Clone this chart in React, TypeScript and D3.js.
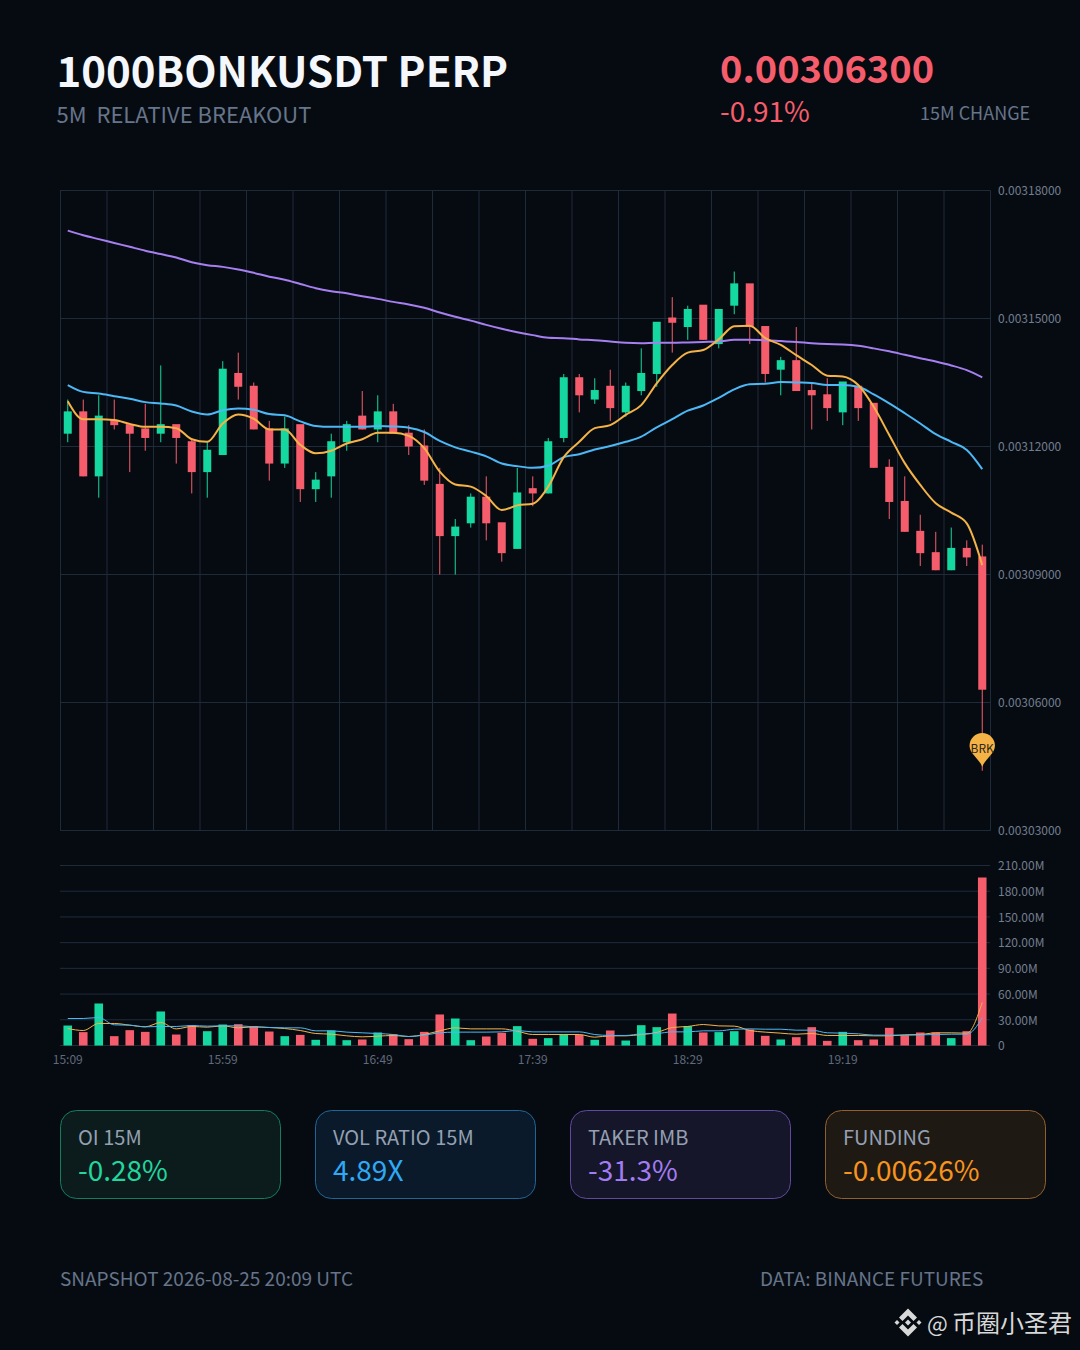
import { useEffect, useRef } from "react";
import * as d3 from "d3";

// Prices are in units of 0.000001 USDT (the contract's tick), volumes in millions
const times = [
  "15:09", "15:14", "15:19", "15:24", "15:29", "15:34", "15:39", "15:44", "15:49", "15:54",
  "15:59", "16:04", "16:09", "16:14", "16:19", "16:24", "16:29", "16:34", "16:39", "16:44",
  "16:49", "16:54", "16:59", "17:04", "17:09", "17:14", "17:19", "17:24", "17:29", "17:34",
  "17:39", "17:44", "17:49", "17:54", "17:59", "18:04", "18:09", "18:14", "18:19", "18:24",
  "18:29", "18:34", "18:39", "18:44", "18:49", "18:54", "18:59", "19:04", "19:09", "19:14",
  "19:19", "19:24", "19:29", "19:34", "19:39", "19:44", "19:49", "19:54", "19:59", "20:04",
];
const timeTicks = ["15:09", "15:59", "16:49", "17:39", "18:29", "19:19"];

const opens = [
  3123, 3128, 3113, 3126, 3125, 3124, 3123, 3125, 3121, 3114,
  3118, 3137, 3134, 3124, 3116, 3125, 3110, 3113, 3121, 3127,
  3124, 3128, 3123, 3120, 3111, 3099, 3102, 3108, 3102, 3096,
  3110, 3109, 3122, 3136, 3131, 3134, 3128, 3133, 3137, 3150,
  3148, 3153, 3144, 3153, 3158, 3148, 3138, 3140, 3133, 3132,
  3128, 3134, 3130, 3115, 3107, 3100, 3095, 3091, 3096, 3094,
];
const closes = [
  3128, 3113, 3127, 3125, 3123, 3122, 3125, 3122, 3114, 3119,
  3138, 3134, 3124, 3116, 3124, 3110, 3112, 3121, 3125, 3124,
  3128, 3123, 3120, 3112, 3099, 3101, 3108, 3102, 3095, 3109,
  3109, 3121, 3136, 3132, 3133, 3129, 3134, 3137, 3149, 3149,
  3152, 3145, 3152, 3158, 3148, 3137, 3140, 3133, 3132, 3129,
  3135, 3129, 3115, 3107, 3100, 3095, 3091, 3096, 3094, 3063,
];
const lows = [
  3121, 3113, 3108, 3124, 3114, 3119, 3121, 3116, 3109, 3108,
  3118, 3131, 3124, 3112, 3115, 3107, 3107, 3108, 3119, 3124,
  3121, 3123, 3118, 3111, 3090, 3090, 3101, 3098, 3093, 3096,
  3106, 3109, 3121, 3128, 3130, 3126, 3127, 3132, 3134, 3142,
  3145, 3145, 3143, 3151, 3144, 3135, 3132, 3133, 3124, 3126,
  3125, 3126, 3115, 3103, 3100, 3092, 3091, 3091, 3092, 3044,
];
const highs = [
  3131, 3131, 3132, 3131, 3125, 3130, 3139, 3125, 3122, 3121,
  3140, 3142, 3135, 3126, 3127, 3125, 3114, 3123, 3126, 3133,
  3132, 3130, 3125, 3124, 3115, 3103, 3109, 3113, 3102, 3115,
  3113, 3122, 3137, 3137, 3136, 3138, 3135, 3143, 3149, 3155,
  3153, 3153, 3152, 3161, 3158, 3148, 3141, 3148, 3135, 3136,
  3135, 3134, 3130, 3117, 3113, 3104, 3100, 3101, 3098, 3097,
];

const maFast = [
  3130.6, 3126.4, 3126.4, 3126.2, 3125.3, 3124.6, 3124.6, 3124.3, 3121.7, 3121.1,
  3125.4, 3127.5, 3126.5, 3124.0, 3124.0, 3120.4, 3118.4, 3119.0, 3120.7, 3121.7,
  3123.2, 3123.2, 3122.5, 3119.6, 3114.1, 3111.1, 3110.6, 3108.4, 3105.1, 3106.2,
  3106.6, 3110.6, 3117.5, 3121.1, 3124.3, 3125.0, 3127.4, 3129.7, 3134.8, 3139.1,
  3142.0, 3142.6, 3145.1, 3148.2, 3148.3, 3145.4, 3143.8, 3141.4, 3139.1, 3136.6,
  3136.4, 3134.4, 3129.3, 3122.7, 3116.1, 3111.0, 3106.7, 3104.5, 3102.0, 3092.2,
];
const maMid = [
  3134.4, 3132.8, 3132.4, 3131.8, 3131.2, 3130.4, 3130.1, 3129.6, 3128.2, 3127.5,
  3128.5, 3128.9, 3128.6, 3127.6, 3127.3, 3125.9, 3124.8, 3124.6, 3124.6, 3124.6,
  3124.8, 3124.7, 3124.4, 3123.4, 3121.3, 3119.8, 3118.8, 3117.7, 3116.0, 3115.4,
  3115.0, 3115.5, 3117.5, 3118.2, 3119.3, 3120.1, 3121.1, 3122.3, 3124.5, 3126.4,
  3128.4, 3129.6, 3131.4, 3133.4, 3134.6, 3134.7, 3135.1, 3135.0, 3134.9, 3134.4,
  3134.4, 3134.0, 3132.2, 3130.1, 3127.8, 3125.4, 3122.9, 3121.1, 3119.2, 3114.7,
];
const maSlow = [
  3170.6, 3169.5, 3168.6, 3167.7, 3166.8, 3165.9, 3165.1, 3164.3, 3163.2, 3162.5,
  3162.1, 3161.5, 3160.7, 3159.8, 3159.1, 3158.1, 3157.1, 3156.4, 3155.9, 3155.2,
  3154.6, 3153.9, 3153.3, 3152.5, 3151.4, 3150.4, 3149.5, 3148.5, 3147.6, 3146.8,
  3146.1, 3145.5, 3145.4, 3145.1, 3144.9, 3144.6, 3144.3, 3144.2, 3144.3, 3144.3,
  3144.4, 3144.5, 3144.6, 3145.0, 3145.0, 3144.9, 3144.7, 3144.5, 3144.2, 3144.0,
  3143.9, 3143.6, 3143.0, 3142.3, 3141.5, 3140.7, 3139.9, 3139.0, 3137.9, 3136.2,
];

const volumes = [
  23.3, 15.6, 49.0, 10.9, 17.9, 15.9, 39.7, 12.8, 23.7, 16.7,
  24.5, 24.9, 22.6, 16.3, 10.9, 12.4, 6.6, 17.5, 6.2, 7.0,
  15.2, 13.2, 7.4, 15.9, 36.2, 31.5, 6.2, 10.5, 14.8, 22.6,
  7.8, 8.6, 12.8, 12.4, 6.6, 17.5, 5.8, 23.7, 21.4, 37.3,
  22.6, 15.2, 15.6, 16.7, 18.7, 11.3, 7.0, 9.7, 21.4, 5.4,
  15.9, 6.2, 7.0, 20.6, 12.0, 15.2, 15.2, 8.6, 16.7, 196.0,
];
const volFast = [
  19.8, 17.5, 25.7, 25.7, 23.7, 21.8, 26.8, 19.4, 22.2, 21.4,
  22.9, 20.6, 21.8, 21.0, 19.8, 17.5, 14.0, 13.2, 11.3, 10.1,
  10.9, 11.7, 10.5, 12.8, 17.1, 20.6, 19.4, 19.4, 19.4, 16.7,
  12.8, 12.8, 12.8, 12.8, 9.7, 11.3, 11.3, 12.8, 15.2, 21.0,
  22.2, 24.5, 22.9, 22.6, 17.5, 15.6, 14.4, 13.2, 14.0, 11.7,
  11.7, 11.7, 11.3, 11.3, 12.4, 12.8, 14.8, 14.8, 14.4, 50.2,
];
const volSlow = [
  31.5, 31.5, 32.7, 24.1, 23.7, 21.8, 22.2, 22.2, 23.3, 22.6,
  22.9, 22.9, 21.8, 21.0, 20.6, 20.6, 17.1, 17.1, 15.6, 14.8,
  14.0, 12.8, 10.5, 12.1, 14.8, 15.6, 15.6, 15.6, 15.9, 17.5,
  15.9, 15.9, 15.9, 15.9, 12.8, 11.7, 11.7, 13.6, 14.0, 15.9,
  15.9, 17.1, 17.1, 19.0, 19.4, 19.0, 19.0, 17.9, 17.9, 14.8,
  14.4, 13.6, 12.1, 12.1, 12.1, 12.4, 12.8, 13.2, 13.2, 32.3,
];

const priceTicks = [3030, 3060, 3090, 3120, 3150, 3180];
const volumeTicks = [0, 30, 60, 90, 120, 150, 180, 210];

const cardLabels = ["OI 15M", "VOL RATIO 15M", "TAKER IMB", "FUNDING"];
const cardValues = ["-0.28%", "4.89X", "-31.3%", "-0.00626%"];
const cardColors = ["#22d69f", "#2fa8f5", "#a27cf2", "#f7941d"];
const cardFills = ["#0c1c1c", "#0a1a2a", "#16162a", "#1f1914"];
const cardStrokes = ["#137d60", "#1f6698", "#5f4aa0", "#94602a"];

const FONT = "'Noto Sans CJK SC', 'Noto Sans', sans-serif";
const BG = "#060b12";
const GRID = "#202b3a";
const UP = "#14d89f";
const DOWN = "#f65d6c";
const ORANGE = "#f5b347";
const BLUE = "#4db8f6";
const PURPLE = "#a67ff0";
const AXIS_TEXT = "#737e8e";
const MUTED = "#66758a";

export default function App() {
  const ref = useRef<SVGSVGElement>(null);

  useEffect(() => {
    if (!ref.current) return;
    const svg = d3.select(ref.current);
    svg.selectAll("*").remove();

    const left = 60;
    const right = 990;
    const x = d3.scaleBand<string>().domain(times).range([left, right]);
    const cx = (i: number) => (x(times[i]) as number) + x.bandwidth() / 2;
    const y = d3.scaleLinear().domain([3030, 3180]).range([830.5, 190.5]);
    const v = d3.scaleLinear().domain([0, 210]).range([1045.5, 865.5]);

    const text = (
      px: number, py: number, s: string, size: number, fill: string,
      weight = 400, anchor = "start",
    ) =>
      svg.append("text")
        .attr("x", px).attr("y", py)
        .attr("font-size", size).attr("font-weight", weight)
        .attr("fill", fill).attr("text-anchor", anchor)
        .attr("font-family", FONT)
        .style("white-space", "pre")
        .text(s);

    // Header
    text(56.5, 87, "1000BONKUSDT PERP", 42, "#f4f7fb", 700);
    text(56.5, 123, "5M  RELATIVE BREAKOUT", 22, MUTED);
    text(720, 83, "0.00306300", 38, DOWN, 700);
    text(720, 122, "-0.91%", 28, DOWN);
    text(920, 120, "15M CHANGE", 18, MUTED);

    // Price grid
    const grid = svg.append("g").attr("stroke", GRID).attr("stroke-width", 1);
    grid.selectAll("line.h").data(priceTicks).enter().append("line")
      .attr("x1", left).attr("x2", right + 0.5)
      .attr("y1", d => y(d)).attr("y2", d => y(d));
    const vIdx = d3.range(0, 60, 3);
    grid.selectAll("line.v").data(vIdx).enter().append("line")
      .attr("x1", i => (x(times[i]) as number) + 0.5).attr("x2", i => (x(times[i]) as number) + 0.5)
      .attr("y1", 190.5).attr("y2", 830.5);
    grid.append("line").attr("x1", right + 0.5).attr("x2", right + 0.5).attr("y1", 190.5).attr("y2", 830.5);

    // Price axis
    const priceAxis = svg.append("g").attr("transform", `translate(${right},0)`)
      .call(d3.axisRight(y).tickValues(priceTicks).tickSize(0).tickPadding(8)
        .tickFormat(d => (Number(d) / 1e6).toFixed(8)));
    priceAxis.select(".domain").remove();
    priceAxis.selectAll("text").attr("fill", AXIS_TEXT).attr("font-size", 12).attr("font-family", FONT);

    // Candles
    const idx = d3.range(times.length);
    const color = (i: number) => (closes[i] >= opens[i] ? UP : DOWN);
    svg.append("g").selectAll("line").data(idx).enter().append("line")
      .attr("x1", cx).attr("x2", cx)
      .attr("y1", i => y(highs[i])).attr("y2", i => y(lows[i]))
      .attr("stroke", color).attr("stroke-width", 1);
    const bw = 8;
    svg.append("g").selectAll("rect").data(idx).enter().append("rect")
      .attr("x", i => cx(i) - bw / 2).attr("width", bw)
      .attr("y", i => y(Math.max(opens[i], closes[i])) - 1)
      .attr("height", i => Math.abs(y(opens[i]) - y(closes[i])) + 1)
      .attr("fill", color);

    // Moving averages
    const priceLine = d3.line<number>().x((_, i) => cx(i)).y(d => y(d)).curve(d3.curveMonotoneX);
    [[maSlow, PURPLE], [maMid, BLUE], [maFast, ORANGE]].forEach(([vals, c]) => {
      svg.append("path").attr("d", priceLine(vals as number[])).attr("fill", "none")
        .attr("stroke", c as string).attr("stroke-width", 2);
    });

    // Breakout pin, tip sits just above the low of the last candle
    const last = times.length - 1;
    const pinX = cx(last);
    const pinY = y(lows[last]) - 25;
    const r = 12.7;
    svg.append("path")
      .attr("d", `M${pinX - r},${pinY} A${r},${r} 0 1 1 ${pinX + r},${pinY} C${pinX + r},${pinY + 8} ${pinX + 3},${pinY + 13} ${pinX},${pinY + 21} C${pinX - 3},${pinY + 13} ${pinX - r},${pinY + 8} ${pinX - r},${pinY} Z`)
      .attr("fill", ORANGE);
    text(pinX, pinY + 7.5, "BRK", 12, "#2e2818", 400, "middle");

    // Volume pane
    const vGrid = svg.append("g").attr("stroke", GRID).attr("stroke-width", 1);
    vGrid.selectAll("line").data(volumeTicks).enter().append("line")
      .attr("x1", left).attr("x2", right)
      .attr("y1", d => v(d)).attr("y2", d => v(d));
    const volAxis = svg.append("g").attr("transform", `translate(${right},0.5)`)
      .call(d3.axisRight(v).tickValues(volumeTicks).tickSize(0).tickPadding(8)
        .tickFormat(d => (Number(d) === 0 ? "0" : `${Number(d).toFixed(2)}M`)));
    volAxis.select(".domain").remove();
    volAxis.selectAll("text").attr("fill", AXIS_TEXT).attr("font-size", 12).attr("font-family", FONT);

    const vbw = 8.6;
    svg.append("g").selectAll("rect").data(idx).enter().append("rect")
      .attr("x", i => cx(i) - vbw / 2).attr("width", vbw)
      .attr("y", i => v(volumes[i]))
      .attr("height", i => v(0) - v(volumes[i]))
      .attr("fill", color);
    const volLine = d3.line<number>().x((_, i) => cx(i)).y(d => v(d)).curve(d3.curveMonotoneX);
    [[volFast, ORANGE], [volSlow, BLUE]].forEach(([vals, c]) => {
      svg.append("path").attr("d", volLine(vals as number[])).attr("fill", "none")
        .attr("stroke", c as string).attr("stroke-width", 1);
    });

    // Time axis
    const timeAxis = svg.append("g").attr("transform", "translate(0,1046)")
      .call(d3.axisBottom(x).tickValues(timeTicks).tickSize(0).tickPadding(9));
    timeAxis.select(".domain").remove();
    timeAxis.selectAll("text").attr("fill", "#606a7a").attr("font-size", 12).attr("font-family", FONT);

    // Stat cards
    cardLabels.forEach((label, i) => {
      const cardX = 60.5 + i * 255;
      svg.append("rect")
        .attr("x", cardX).attr("y", 1110.5).attr("width", 220).attr("height", 88).attr("rx", 16)
        .attr("fill", cardFills[i]).attr("stroke", cardStrokes[i]).attr("stroke-width", 1);
      text(cardX + 17.5, 1145, label, 20, "#94a0b2");
      text(cardX + 17.5, 1181, cardValues[i], 28, cardColors[i]);
    });

    // Footer
    text(60, 1286, "SNAPSHOT 2026-08-25 20:09 UTC", 19, MUTED);
    text(760, 1286, "DATA: BINANCE FUTURES", 19, MUTED);

    // Watermark
    const mark = svg.append("g").attr("transform", "translate(908,1322.5)").attr("fill", "#d8d8d8");
    mark.append("path").attr("d", "M0,-14 L9,-5 L5.5,-1.5 L0,-7 L-5.5,-1.5 L-9,-5 Z");
    mark.append("path").attr("d", "M0,14 L9,5 L5.5,1.5 L0,7 L-5.5,1.5 L-9,5 Z");
    mark.append("path").attr("d", "M0,-3 L3,0 L0,3 L-3,0 Z");
    mark.append("path").attr("d", "M-13.5,0 L-11,-2.5 L-8.5,0 L-11,2.5 Z");
    mark.append("path").attr("d", "M13.5,0 L11,-2.5 L8.5,0 L11,2.5 Z");
    text(927, 1332, "@", 22, "#d8d8d8");
    text(952, 1332, "币圈小圣君", 24, "#d8d8d8");
  }, []);

  return (
    <>
      <style>{`body{margin:0;background:${BG}}`}</style>
      <svg ref={ref} width={1080} height={1350} style={{ display: "block", background: BG }} />
    </>
  );
}
